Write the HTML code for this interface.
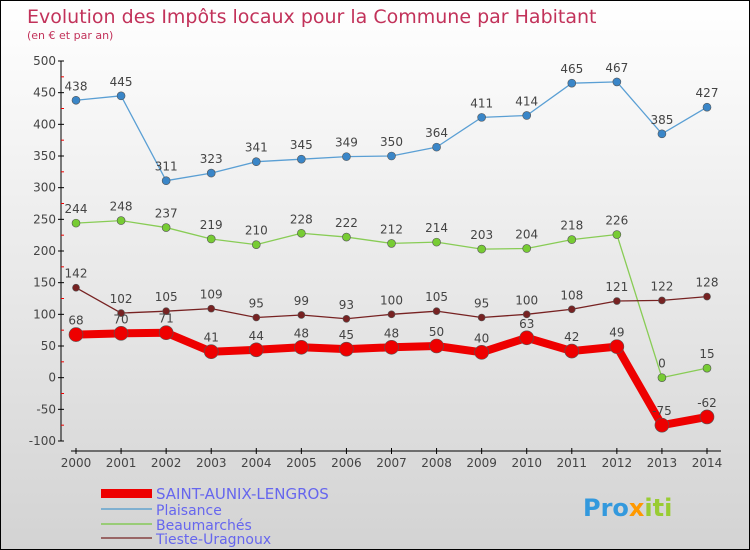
<!DOCTYPE html>
<html><head><meta charset="utf-8"><style>
body{margin:0}
#c{width:750px;height:550px;position:relative;box-sizing:border-box;border:1px solid #000;background:linear-gradient(#fff,#d3d3d3);font-family:"DejaVu Sans","Liberation Sans",sans-serif;overflow:hidden}
text{font-family:"DejaVu Sans","Liberation Sans",sans-serif}
</style></head><body>
<div id="c">
<svg id="s" width="750" height="550" xmlns="http://www.w3.org/2000/svg">
<text x="26" y="22" font-size="19" fill="#c2325a">Evolution des Impôts locaux pour la Commune par Habitant</text>
<text x="26" y="38" font-size="11" fill="#c2325a">(en € et par an)</text>
<g id="axes"></g><g id="series"></g>
<g>
<rect x="100" y="488" width="51" height="9" fill="#e00"/>
<text x="155" y="498" font-size="15" fill="#6666ee">SAINT-AUNIX-LENGROS</text>
<rect x="100" y="507" width="51" height="2" fill="#7fb0d0"/>
<text x="155" y="514" font-size="14" fill="#6666ee">Plaisance</text>
<rect x="100" y="522" width="51" height="2" fill="#99cc77"/>
<text x="155" y="529" font-size="14" fill="#6666ee">Beaumarchés</text>
<rect x="100" y="536" width="51" height="2" fill="#996666"/>
<text x="155" y="543" font-size="14" fill="#6666ee">Tieste-Uragnoux</text>
</g>
<g><text x="582" y="515" font-size="24" font-weight="bold"><tspan fill="#3399dd">Pro</tspan><tspan fill="#ff9900">x</tspan><tspan fill="#99cc33">iti</tspan></text></g>
</svg></div>
<script>
const years=[2000,2001,2002,2003,2004,2005,2006,2007,2008,2009,2010,2011,2012,2013,2014];
const yTicks=[500,450,400,350,300,250,200,150,100,50,0,-50,-100];
const saint=[68,70,71,41,44,48,45,48,50,40,63,42,49,-75,-62];
const plaisance=[438,445,311,323,341,345,349,350,364,411,414,465,467,385,427];
const beaum=[244,248,237,219,210,228,222,212,214,203,204,218,226,0,15];
const tieste=[142,102,105,109,95,99,93,100,105,95,100,108,121,122,128];
const NS='http://www.w3.org/2000/svg';
const xs=i=>75+i*(706-75)/(years.length-1);
const ys=v=>60+(500-v)*(380/600);
function mk(tag,attrs,parent){const e=document.createElementNS(NS,tag);for(const k in attrs)e.setAttribute(k,attrs[k]);parent.appendChild(e);return e;}
const ax=document.getElementById('axes');
const yAxis=mk('line',{x1:60,y1:ys(500),x2:60,y2:ys(-100),stroke:'#000','stroke-width':1},ax);


yTicks.forEach(v=>{
 mk('line',{x1:57,y1:ys(v),x2:63,y2:ys(v),stroke:'#000'},ax);
 if(v>-100) mk('line',{x1:60,y1:ys(v-25),x2:63,y2:ys(v-25),stroke:'#e00'},ax);
 const t=mk('text',{x:55,y:ys(v)+4,'font-size':12,fill:'#444','text-anchor':'end'},ax);t.textContent=v;
 
 
});
const xAxis=mk('line',{x1:70,y1:450,x2:720,y2:450,stroke:'#000'},ax);


years.forEach((y,i)=>{
 mk('line',{x1:xs(i),y1:447,x2:xs(i),y2:453,stroke:'#000'},ax);
 const t=mk('text',{x:xs(i),y:466,'font-size':12,fill:'#444','text-anchor':'middle'},ax);t.textContent=y;
 
 
});
const sg=document.getElementById('series');
function draw(name,vals,color,dot,w,r){
 const g=mk('g',{},sg);
 
 
 const p=mk('polyline',{points:vals.map((v,i)=>xs(i)+','+ys(v)).join(' '),fill:'none',stroke:color,'stroke-width':w,'stroke-linejoin':'round'},g);
 
 
 vals.forEach((v,i)=>{
  const c=mk('circle',{cx:xs(i),cy:ys(v),r:r,fill:dot,stroke:'#555','stroke-width':0.6},g);
  
  
  const t=mk('text',{x:xs(i),y:ys(v)-10,'font-size':12,fill:'#444','text-anchor':'middle'},g);t.textContent=v;
  
  
 });
}
draw('plaisance',plaisance,'#5a9fd4','#3a86c8',1.3,4);
draw('beaumarches',beaum,'#88cc55','#77cc33',1.3,4);
draw('tieste',tieste,'#772222','#772222',1.3,3.5);
draw('saint-aunix',saint,'#ee0000','#ee0000',8,7);
</script>
</body></html>
